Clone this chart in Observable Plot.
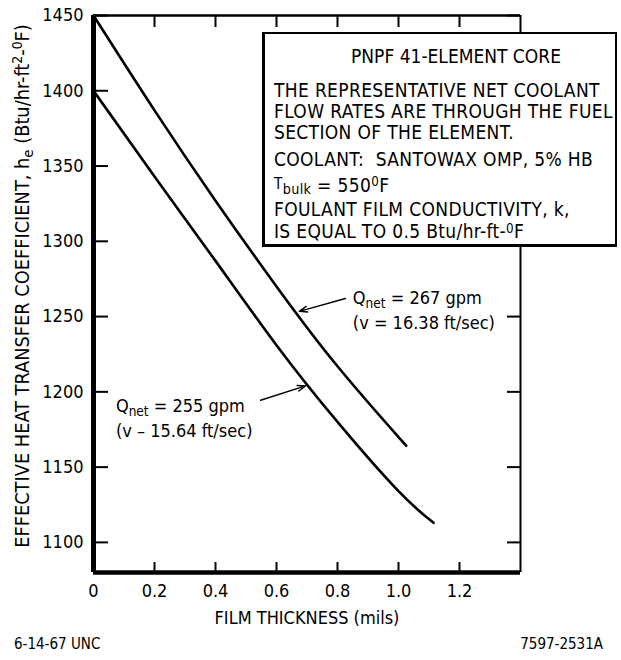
<!DOCTYPE html>
<html><head><meta charset="utf-8">
<script src="https://cdn.jsdelivr.net/npm/d3@7"></script>
<script src="https://cdn.jsdelivr.net/npm/@observablehq/plot@0.6"></script>
<style>
html,body{margin:0;padding:0;background:#fff}
#wrap{position:relative;width:621px;height:660px;background:#fff;overflow:hidden}
.ov{position:absolute;color:#000;font-family:"DejaVu Sans Condensed","Liberation Sans Narrow","Arial Narrow",sans-serif;white-space:nowrap}
.ov sub{font-size:0.75em;vertical-align:-0.3em;line-height:0}
.ov sup{font-size:0.7em;vertical-align:0.45em;line-height:0}
.ln{font-size:19px;letter-spacing:0.35px;padding-left:9px;height:20.8px;line-height:20.8px}
</style>
</head><body>
<div id="wrap"></div>
<script>
const FONT = '"DejaVu Sans Condensed","Liberation Sans Narrow","Arial Narrow",sans-serif';

// Axes
const xDomain = [0, 1.4];
const yDomain = [1080, 1450];
const xTicks = [0, 0.2, 0.4, 0.6, 0.8, 1.0, 1.2];
const xTickLabels = ["0", "0.2", "0.4", "0.6", "0.8", "1.0", "1.2"];
const yTicks = [1100, 1150, 1200, 1250, 1300, 1350, 1400, 1450];
const yTickLabels = ["1100", "1150", "1200", "1250", "1300", "1350", "1400", "1450"];
const xTitle = "FILM THICKNESS (mils)";

// Series: Q_net = 267 gpm
const thickness267 = [0, 0.2, 0.4, 0.6, 0.8, 1.0, 1.013];
const coef267 = [1450, 1387, 1327, 1270, 1217, 1170, 1167];
// Series: Q_net = 255 gpm
const thickness255 = [0, 0.2, 0.4, 0.6, 0.8, 1.0, 1.115];
const coef255 = [1400, 1343, 1287, 1231, 1180, 1134, 1113];

// Annotations (data units)
const arrow267 = {x1: 0.826, y1: 1262, x2: 0.675, y2: 1253.5};
const arrow255 = {x1: 0.548, y1: 1194.4, x2: 0.695, y2: 1204};
const label267 = {x: 0.852, y: 1270.7};
const label255 = {x: 0.075, y: 1199};
const noteBox = {x1: 0.554, x2: 1.718, y1: 1438.7, y2: 1296};

const series = [
  ...thickness267.map((t, i) => ({t, h: coef267[i], s: "267"})),
  ...thickness255.map((t, i) => ({t, h: coef255[i], s: "255"}))
];

const W = 621, H = 660, mL = 93, mR = 101, mT = 15, mB = 88;
const pw = W - mL - mR, ph = H - mT - mB;

const chart = Plot.plot({
  width: W, height: H,
  marginLeft: mL, marginRight: mR, marginTop: mT, marginBottom: mB,
  style: {fontFamily: FONT, fontSize: "18px", background: "#fff", color: "#000"},
  x: {domain: xDomain},
  y: {domain: yDomain},
  marks: [
    Plot.line(series, {x: "t", y: "h", z: "s", curve: "natural", stroke: "#000", strokeWidth: 2.6}),
    // frame
    Plot.ruleX([xDomain[0]], {stroke: "#000", strokeWidth: 5}),
    Plot.ruleX([xDomain[1]], {stroke: "#000", strokeWidth: 2}),
    Plot.ruleY([yDomain[0]], {stroke: "#000", strokeWidth: 4.5}),
    Plot.ruleY([yDomain[1]], {stroke: "#000", strokeWidth: 2.5}),
    // inward ticks
    Plot.tickY(yTicks, {y: d => d, insetRight: pw - 15, stroke: "#000", strokeWidth: 2}),
    Plot.tickY(yTicks, {y: d => d, insetLeft: pw - 13, stroke: "#000", strokeWidth: 2}),
    Plot.tickX(xTicks, {x: d => d, insetTop: ph - 10, stroke: "#000", strokeWidth: 2}),
    Plot.tickX(xTicks, {x: d => d, insetBottom: ph - 12, stroke: "#000", strokeWidth: 2}),
    // tick labels
    Plot.axisY(yTicks, {tickSize: 0, tickPadding: 10, fontSize: 18, label: null,
      tickFormat: d => yTickLabels[yTicks.indexOf(d)]}),
    Plot.axisX(xTicks, {tickSize: 0, tickPadding: 12, fontSize: 18, label: null,
      tickFormat: d => xTickLabels[xTicks.indexOf(d)]}),
    Plot.text([xTitle], {frameAnchor: "bottom", dy: 46, fontSize: 18, fill: "#000", lineAnchor: "middle"}),
    // arrows
    Plot.arrow([arrow267, arrow255], {x1: "x1", y1: "y1", x2: "x2", y2: "y2", stroke: "#000",
      strokeWidth: 1.4, headLength: 9, headAngle: 40})
  ]
});

const wrap = document.getElementById("wrap");
wrap.appendChild(chart);
const sx = chart.scale("x"), sy = chart.scale("y");
function add(html, css) {
  const d = document.createElement("div");
  d.className = "ov";
  d.innerHTML = html;
  Object.assign(d.style, css);
  wrap.appendChild(d);
  return d;
}

// Y axis title
add('EFFECTIVE HEAT TRANSFER COEFFICIENT, h<sub>e</sub> (Btu/hr-ft<sup>2</sup>-<sup>0</sup>F)', {
  left: "22px", top: "286px",
  fontSize: "19.8px", transform: "translate(-50%,-50%) rotate(-90deg)"
});

// Note box
const bx = sx.apply(noteBox.x1), by = sy.apply(noteBox.y1);
const bw = sx.apply(noteBox.x2) - bx, bh = sy.apply(noteBox.y2) - by;
add(`<div style="font-size:19px;text-align:center;padding-left:32px;margin-top:12px;height:20px;line-height:20px">PNPF 41-ELEMENT CORE</div>
<div class="ln" style="margin-top:14px">THE REPRESENTATIVE NET COOLANT</div>
<div class="ln">FLOW RATES ARE THROUGH THE FUEL</div>
<div class="ln">SECTION OF THE ELEMENT.</div>
<div class="ln" style="margin-top:7px">COOLANT:&nbsp; SANTOWAX OMP, 5% HB</div>
<div class="ln" style="margin-top:3px;height:22px;line-height:22px"><span style="font-size:0.8em;vertical-align:0.2em">T</span><sub style="vertical-align:-0.15em">bulk</sub> = 550<sup>0</sup>F</div>
<div class="ln" style="margin-top:4px">FOULANT FILM CONDUCTIVITY, k,</div>
<div class="ln" style="margin-top:1px">IS EQUAL TO 0.5 Btu/hr-ft-<sup style="vertical-align:0.35em">0</sup>F</div>`, {
  left: bx + "px", top: by + "px", width: bw + "px", height: bh + "px", boxSizing: "border-box",
  background: "#fff", borderStyle: "solid", borderColor: "#000",
  borderWidth: "2px 2px 3.5px 3.5px"
});

// Curve labels
add('Q<sub>net</sub> = 267 gpm<br>(v = 16.38 ft/sec)', {
  left: sx.apply(label267.x) + "px", top: sy.apply(label267.y) + "px", fontSize: "18px", lineHeight: "25px"
});
add('Q<sub>net</sub> = 255 gpm<br>(v – 15.64 ft/sec)', {
  left: sx.apply(label255.x) + "px", top: sy.apply(label255.y) + "px", fontSize: "18px", lineHeight: "25px"
});

// Captions
add('6-14-67 UNC', {left: "14px", top: "635px", fontSize: "15px"});
add('7597-2531A', {right: "18px", top: "635px", fontSize: "15px"});
</script>
</body></html>
